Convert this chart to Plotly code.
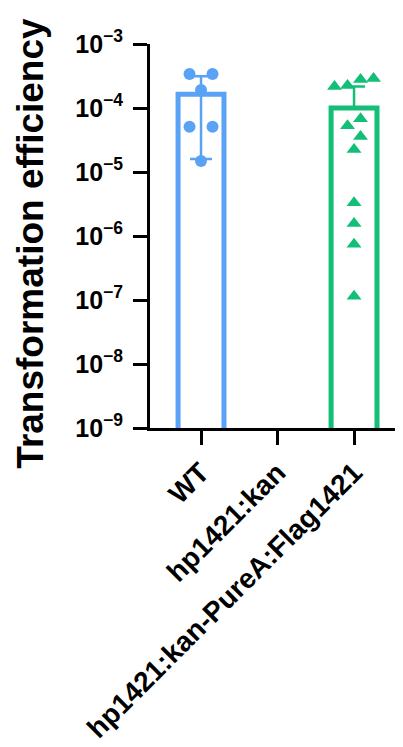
import numpy as np
import plotly.graph_objects as go

# ---------------- data ----------------
categories = ["WT", "hp1421:kan", "hp1421:kan-PureA:Flag1421"]
wt_values = [3.40e-4, 3.40e-4, 1.91e-4, 5.1e-5, 5.1e-5, 1.49e-5]
kan_values = []
pure_values = [2.89e-4, 2.79e-4, 2.25e-4, 2.17e-4, 6.8e-5, 5.3e-5,
               3.6e-5, 2.25e-5, 3.3e-6, 1.57e-6, 7.4e-7, 1.14e-7]
y_tick_exponents = [-3, -4, -5, -6, -7, -8, -9]
y_title = "Transformation efficiency"

# ---------------- layout / style constants ----------------
PAGE_OFFSET = 8          # default body margin of the html page
W, H = 403 - PAGE_OFFSET, 747 - PAGE_OFFSET
M = dict(l=150 - PAGE_OFFSET, r=0, t=44 - PAGE_OFFSET, b=0)
M["b"] = H - M["t"] - 384
PLOT_W = W - M["l"] - M["r"]
PLOT_H = H - M["t"] - M["b"]
Y_RANGE = [-9, -3]
X_RANGE = [-0.667, 2.64]
DEC_PX = PLOT_H / (Y_RANGE[1] - Y_RANGE[0])
UNIT_PX = PLOT_W / (X_RANGE[1] - X_RANGE[0])
FONT = "Liberation Sans, Arial, sans-serif"
BLUE = "#5AA2F5"
GREEN = "#13BE77"
MARKER_PX = 12

groups = [
    dict(name=categories[0], vals=wt_values, color=BLUE, symbol="circle", size=12, spacing=23),
    dict(name=categories[1], vals=kan_values, color="black", symbol="circle", size=12, spacing=13),
    dict(name=categories[2], vals=pure_values, color=GREEN, symbol="triangle-up", size=13, spacing=13),
]


def swarm_offsets(vals, spacing_px):
    """Simple beeswarm: cluster points that would overlap vertically,
    lay a tight cluster out as a centred row, a loose one as a zigzag."""
    n = len(vals)
    if n == 0:
        return []
    ypx = [-np.log10(v) * DEC_PX for v in vals]
    order = sorted(range(n), key=lambda i: ypx[i])
    clusters, cur = [], [order[0]]
    for a, b in zip(order[:-1], order[1:]):
        if ypx[b] - ypx[a] < MARKER_PX:
            cur.append(b)
        else:
            clusters.append(cur)
            cur = [b]
    clusters.append(cur)
    off = [0.0] * n
    for c in clusters:
        if len(c) == 1:
            continue
        span = ypx[c[-1]] - ypx[c[0]]
        if span < MARKER_PX:
            row = sorted(c, key=lambda i: -ypx[i])
            m = len(row)
            for k, i in enumerate(row):
                off[i] = (k - (m - 1) / 2) * spacing_px
        else:
            for k, i in enumerate(c):
                off[i] = (0.5 if k % 2 == 0 else -0.5) * spacing_px
    return [o / UNIT_PX for o in off]


fig = go.Figure()
for gi, g in enumerate(groups):
    vals = np.array(g["vals"], dtype=float)
    if len(vals) == 0:
        continue
    mean = float(vals.mean())
    sd = float(vals.std(ddof=1))
    fig.add_trace(go.Bar(
        x=[gi], y=[mean], width=0.6,
        marker=dict(color="white", line=dict(color=g["color"], width=5)),
        error_y=dict(type="data", array=[sd],
                     arrayminus=[sd if mean - sd > 0 else 0],
                     color=g["color"], thickness=2.5, width=11),
        showlegend=False, hoverinfo="skip",
    ))
    offs = swarm_offsets(list(vals), g["spacing"])
    fig.add_trace(go.Scatter(
        x=[gi + o for o in offs], y=list(vals), mode="markers",
        marker=dict(symbol=g["symbol"], size=g["size"], color=g["color"], line=dict(width=0)),
        showlegend=False, cliponaxis=False,
    ))

fig.update_layout(
    width=W, height=H, autosize=False, margin=M,
    paper_bgcolor="white", plot_bgcolor="white",
    font=dict(family=FONT, color="black"),
    xaxis=dict(range=X_RANGE, tickmode="array", tickvals=list(range(len(categories))),
               ticktext=categories, tickangle=-45, ticks="outside", ticklen=14, tickwidth=3,
               tickcolor="black", showline=True, linewidth=3, linecolor="black",
               showgrid=False, zeroline=False, automargin=False,
               tickfont=dict(family=FONT, size=28, color="black", weight="bold")),
    yaxis=dict(type="log", range=Y_RANGE, tickmode="array",
               tickvals=[10.0 ** e for e in y_tick_exponents],
               ticktext=["10<sup>\u2212%d</sup>" % (-e) for e in y_tick_exponents],
               ticks="outside", ticklen=14, tickwidth=3, tickcolor="black",
               ticklabelstandoff=5, automargin=False,
               showline=True, linewidth=3, linecolor="black", showgrid=False, zeroline=False,
               tickfont=dict(family=FONT, size=25, color="black", weight="bold")),
    annotations=[dict(text=y_title, xref="paper", yref="paper",
                      x=(31 - PAGE_OFFSET - M["l"]) / PLOT_W, y=0.48,
                      xanchor="center", yanchor="middle",
                      textangle=-90, showarrow=False,
                      font=dict(family=FONT, size=37, color="black", weight="bold"))],
)

fig.write_html("out.html")
